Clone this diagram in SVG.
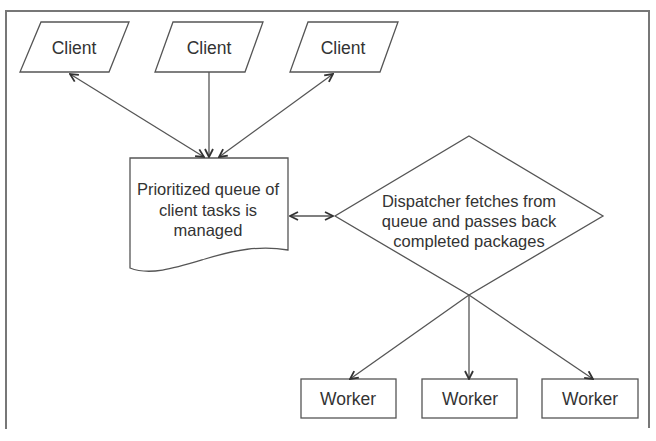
<svg xmlns="http://www.w3.org/2000/svg" width="656" height="441" viewBox="0 0 656 441">
<style>
.shape{fill:#fff;stroke:#555;stroke-width:1.3}
.conn{fill:none;stroke:#555;stroke-width:1.3}
.t{font-family:"Liberation Sans",Arial,sans-serif;fill:#333;text-anchor:middle;dominant-baseline:central}
.big{font-size:17.5px}
.mid{font-size:16.5px}
</style>
<defs>
<marker id="a" viewBox="0 0 10 10" refX="9" refY="5" markerWidth="10" markerHeight="10" markerUnits="userSpaceOnUse" orient="auto-start-reverse">
<path d="M1,1 L9,5 L1,9" fill="none" stroke="#333" stroke-width="1.8"/>
</marker>
</defs>
<rect width="656" height="441" fill="#fff"/>
<path d="M6,429 V11 H649 V428" fill="none" stroke="#777" stroke-width="2"/>
<g id="client1"><polygon class="shape" points="41,22 129,22 109,72 20,72"/><text class="t big" x="74" y="48">Client</text></g>
<g id="client2"><polygon class="shape" points="173,22 263,22 245,72 155,72"/><text class="t big" x="209" y="48">Client</text></g>
<g id="client3"><polygon class="shape" points="308,22 398,22 380,72 290,72"/><text class="t big" x="343" y="48">Client</text></g>
<g id="queue"><path class="shape" d="M130,158 H288 V250 C260,245 235,250 205,259 C175,268 150,276 130,268 Z"/>
<text class="t mid" x="208" y="189">Prioritized queue of</text>
<text class="t mid" x="208" y="210">client tasks is</text>
<text class="t mid" x="208" y="230">managed</text></g>
<g id="dispatcher"><polygon class="shape" points="469,136 603,216 469,295 335,216"/>
<text class="t mid" x="469" y="201">Dispatcher fetches from</text>
<text class="t mid" x="469" y="221">queue and passes back</text>
<text class="t mid" x="469" y="241">completed packages</text></g>
<g id="worker1"><rect class="shape" x="301" y="379" width="95" height="39"/><text class="t big" x="348" y="399">Worker</text></g>
<g id="worker2"><rect class="shape" x="422" y="379" width="95" height="39"/><text class="t big" x="470" y="399">Worker</text></g>
<g id="worker3"><rect class="shape" x="542" y="379" width="96" height="39"/><text class="t big" x="590" y="399">Worker</text></g>
<g id="connectors">
<line class="conn" x1="70" y1="74" x2="204" y2="157" marker-start="url(#a)" marker-end="url(#a)"/>
<line class="conn" x1="209" y1="72" x2="209" y2="157" marker-end="url(#a)"/>
<line class="conn" x1="333" y1="74" x2="219" y2="157" marker-start="url(#a)" marker-end="url(#a)"/>
<line class="conn" x1="290" y1="216" x2="333" y2="216" marker-start="url(#a)" marker-end="url(#a)"/>
<line class="conn" x1="469" y1="295" x2="350" y2="379" marker-end="url(#a)"/>
<line class="conn" x1="469" y1="295" x2="469" y2="379" marker-end="url(#a)"/>
<line class="conn" x1="469" y1="295" x2="593" y2="379" marker-end="url(#a)"/>
</g>
</svg>
